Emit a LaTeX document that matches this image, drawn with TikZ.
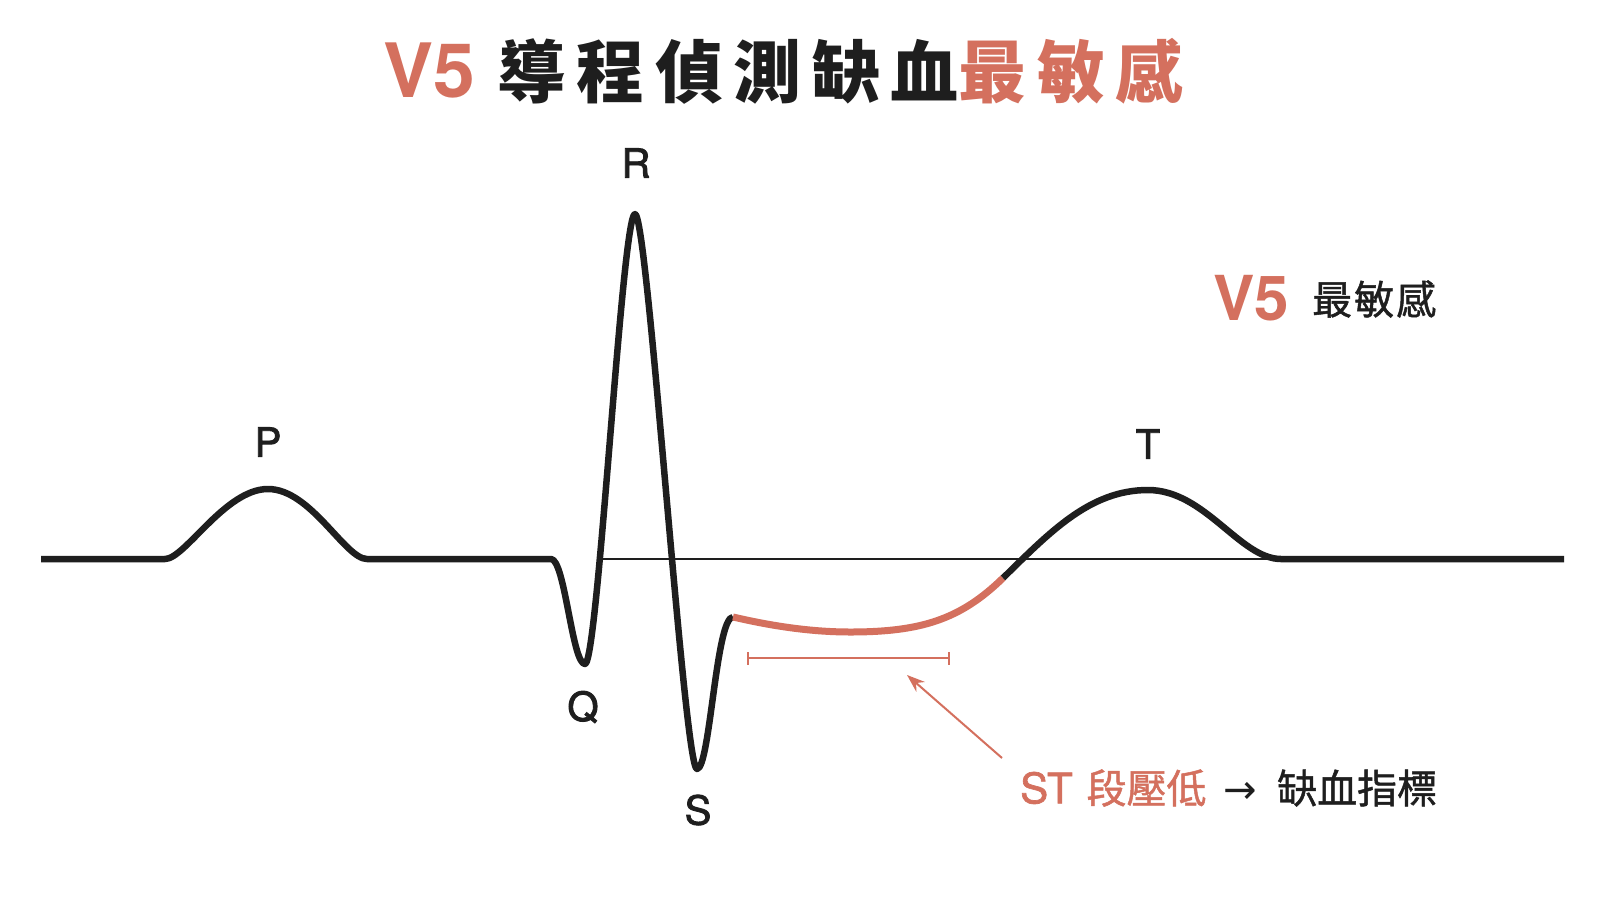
\documentclass[tikz,border=0pt]{standalone}
\usepackage{fontspec}
\usetikzlibrary{arrows.meta}
\setmainfont{TeX Gyre Heros}
\newfontfamily\cjk{Noto Sans CJK TC}
\newfontfamily\cjkm[FakeBold=1.2]{Noto Sans CJK TC}
\newfontfamily\lab[FakeBold=2.2]{TeX Gyre Heros}
\newfontfamily\labm[FakeBold=1.6]{TeX Gyre Heros}
\newfontfamily\dejavu{DejaVu Sans}
\definecolor{ecgred}{RGB}{212,112,94}
\definecolor{ink}{RGB}{30,30,30}
\begin{document}
\begin{tikzpicture}[x=1pt,y=-1pt,
  wave/.style={line width=6.5pt, draw=ink, line cap=butt, line join=round},
  stseg/.style={line width=7pt, draw=ecgred, line cap=butt, line join=round},
  baseref/.style={line width=2pt, draw=ink},
  redline/.style={line width=2pt, draw=ecgred},
  wlabel/.style={inner sep=0pt, text=ink, font=\lab\fontsize{40}{40}\selectfont},
  txt/.style={inner sep=0pt, anchor=west}]
\useasboundingbox (0,0) rectangle (1600,900);
\fill[white] (0,0) rectangle (1600,900);

% title
\node[txt] (title) at (383,71) {\fontsize{75}{75}\selectfont\bfseries\color{ecgred}V5\hspace{23pt}\cjk\fontsize{68}{68}\selectfont\addfontfeatures{LetterSpace=15.5}\color{ink}導程偵測缺血\color{ecgred}最敏感};

% baseline reference
\draw[baseref] (603,559) -- (1281,559);

% ECG trace
\draw[wave] (41,559) -- (165,559)
  .. controls (185,559) and (225,489) .. (268,489)
  .. controls (311,489) and (345,559) .. (367,559) -- (551,559)
  .. controls (565,559) and (572,664) .. (585,664)
  .. controls (598,664) and (622,214) .. (635,214)
  .. controls (648,214) and (684,769) .. (697,769)
  .. controls (710,769) and (716,617) .. (733,617);
\draw[stseg] (733,617) .. controls (755,622) and (800,632) .. (850,632)
  .. controls (920,632) and (960,620) .. (1003,578);
\draw[wave] (1003,578) .. controls (1050,532) and (1090,490) .. (1148,490)
  .. controls (1205,490) and (1240,559) .. (1281,559) -- (1564,559);

% wave labels
\node[wlabel] (P) at (268,442) {P};
\node[wlabel] (R) at (636,163) {R};
\node[wlabel] (Q) at (583,707) {Q};
\node[wlabel] (S) at (698,810) {S};
\node[wlabel] (T) at (1148,444) {T};

% side label
\node[txt] (v5) at (1213,298) {\fontsize{62}{62}\selectfont\bfseries\color{ecgred}V5};
\node[txt] (sens) at (1312,299) {\cjkm\fontsize{40}{40}\selectfont\addfontfeatures{LetterSpace=5}\color{ink}最敏感};

% ST bracket and pointer
\coordinate (bl) at (748,658);
\coordinate (br) at (949,658);
\draw[redline] ([yshift=-6.5pt]bl) -- ([yshift=6.5pt]bl);
\draw[redline] ([yshift=-6.5pt]br) -- ([yshift=6.5pt]br);
\draw[redline] (bl) -- (br);
\coordinate (tip) at (907,675);
\coordinate (tail) at (1002,758);
\draw[redline, -{Stealth[length=18pt,width=13pt]}] (tail) -- (tip);

% bottom caption
\node[txt] (cap) at (1020,788) {\labm\fontsize{42}{42}\selectfont\color{ecgred}ST\hspace{14pt}{\cjkm\fontsize{40}{40}\selectfont 段壓低}\color{ink}\hspace{17pt}{\dejavu\fontsize{40}{40}\selectfont →}\hspace{20pt}{\cjkm\fontsize{40}{40}\selectfont 缺血指標}};
\end{tikzpicture}
\end{document}
